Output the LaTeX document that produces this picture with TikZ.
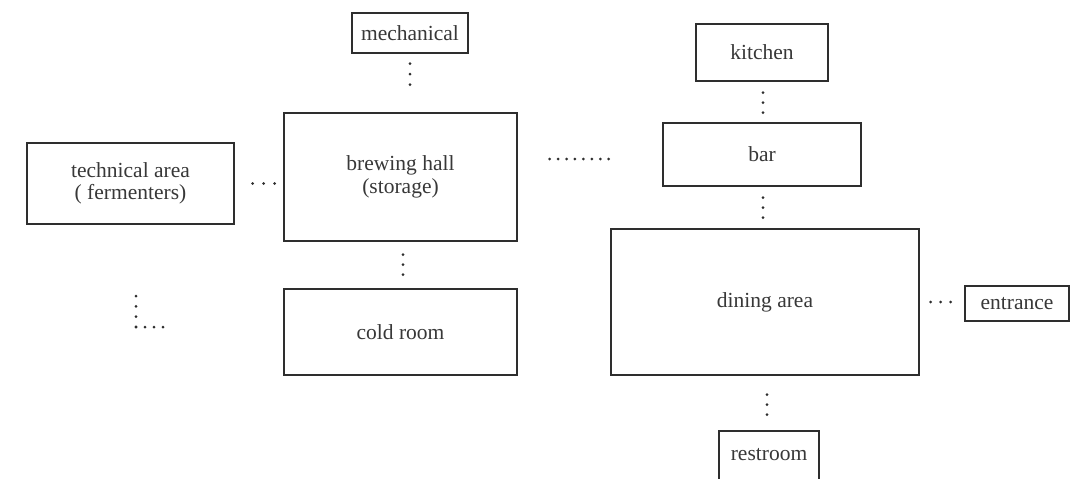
\documentclass[tikz,border=0pt]{standalone}
\usepackage{fontspec}
\setmainfont{Liberation Serif}
\definecolor{ink}{HTML}{2E2E2E}
\definecolor{txt}{HTML}{383838}
\begin{document}
\begin{tikzpicture}[x=1pt,y=-1pt,
  room/.style={draw=ink, line width=1.4pt, rectangle, inner sep=0pt,
    text=txt, font=\fontsize{21.5}{22.5}\selectfont, align=center},
  dotline/.style={draw=ink, line width=3pt, line cap=round,
    dash pattern=on 0pt off #1},
  dotline/.default=10pt]
\clip (0,0) rectangle (1074,479);
\fill[white] (0,0) rectangle (1074,479);

\node[room, minimum width=116pt, minimum height=40pt] (mech) at (410,33) {mechanical};
\node[room, minimum width=207pt, minimum height=81pt] (tech) at (130.5,183.5) {technical area\\( fermenters)};
\node[room, minimum width=233pt, minimum height=128pt] (brew) at (400.5,177) {brewing hall\\(storage)};
\node[room, minimum width=233pt, minimum height=86pt] (cold) at (400.5,332) {cold room};
\node[room, minimum width=132pt, minimum height=57pt] (kitchen) at (762,52.5) {kitchen};
\node[room, minimum width=198pt, minimum height=63pt] (bar) at (762,154.5) {bar};
\node[room, minimum width=308pt, minimum height=146pt] (dining) at (765,302) {dining area};
\node[room, minimum width=104pt, minimum height=35pt] (entrance) at (1017,303.5) {entrance};
\node[room, minimum width=100pt, minimum height=80pt, text depth=0pt] (restroom) at (769,471) {\raisebox{34pt}{restroom}};

% connectors (dots: each line extends 2pt past its last dot)
\draw[dotline=10.5pt, shorten <=10pt, shorten >=27pt] (mech.south) -- (mech.south |- brew.north);
\draw[dotline=11pt, shorten <=18pt, shorten >=8pt] (tech.east) -- (tech.east -| brew.west);
\draw[dotline=10pt, shorten <=13pt, shorten >=13pt] ([xshift=2.5pt]brew.south) -- ([xshift=2.5pt]brew.south |- cold.north);
\coordinate (bh) at ([yshift=18pt]brew.east);
\draw[dotline=8.43pt, shorten <=32pt, shorten >=53pt] (bh) -- (bh -| bar.west);
\draw[dotline=10pt, shorten <=11pt, shorten >=9pt] ([xshift=1pt]kitchen.south) -- ([xshift=1pt]kitchen.south |- bar.north);
\draw[dotline=10pt, shorten <=11pt, shorten >=10pt] ([xshift=1pt]bar.south) -- ([xshift=1pt]bar.south |- dining.north);
\draw[dotline=10pt, shorten <=11pt, shorten >=13pt] ([yshift=1.5pt]entrance.west -| dining.east) -- ([yshift=1.5pt]entrance.west);
\draw[dotline=10pt, shorten <=19pt, shorten >=15pt] ([xshift=2pt]dining.south) -- ([xshift=2pt]dining.south |- restroom.north);

% free-ended L below technical area
\coordinate (La) at (136,296);
\coordinate (Lb) at (136,327);
\coordinate (Lc) at (165,327);
\draw[dotline=10.33pt] (La) -- (Lb);
\draw[dotline=9pt] (Lb) -- (Lc);
\end{tikzpicture}
\end{document}
